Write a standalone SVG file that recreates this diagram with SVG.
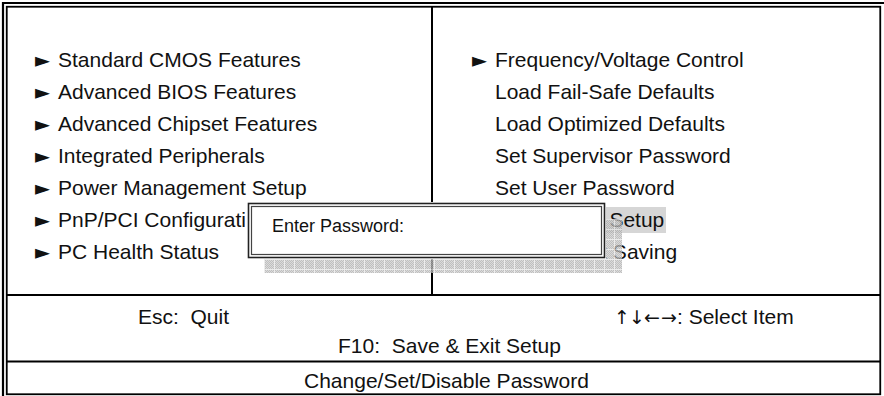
<svg xmlns="http://www.w3.org/2000/svg" width="884" height="396" viewBox="0 0 884 396">
<defs>
<style>
.t{font-family:"Liberation Sans",Arial,sans-serif;font-size:21px;fill:#111}
.d{font-family:"Liberation Sans",Arial,sans-serif;font-size:18px;fill:#111}
.tri{font-family:"DejaVu Sans","Liberation Sans",sans-serif;font-size:20px;fill:#111}
.ar{font-family:"DejaVu Sans","Liberation Sans",sans-serif;font-size:19px;fill:#111}
.ln{stroke:#000;fill:none}
</style>
<pattern id="dith" width="2" height="2" patternUnits="userSpaceOnUse"><rect width="2" height="2" fill="#cfcfcf"/><rect width="1" height="1" fill="#a9a9a9"/><rect x="1" y="1" width="1" height="1" fill="#a9a9a9"/></pattern>
<pattern id="grid" width="10" height="10" patternUnits="userSpaceOnUse" x="264" y="219"><rect width="10" height="10" fill="url(#dith)"/><path d="M0.5,0V10M0,0.5H10" stroke="#e6e6e6" stroke-width="1"/></pattern>
</defs>
<rect width="884" height="396" fill="#fff"/>
<g id="frame" class="ln">
<path d="M3,396V3H884" stroke-width="2.2"/>
<rect x="6.75" y="6.75" width="873.5" height="387.5" stroke-width="1.8"/>
<line x1="432" y1="6" x2="432" y2="295" stroke-width="2"/>
<line x1="6" y1="295" x2="880" y2="295" stroke-width="2"/>
<line x1="6" y1="361.5" x2="880" y2="361.5" stroke-width="2"/>
</g>
<g id="left-menu">
<g id="item-standard-cmos"><text class="tri" x="35" y="67" textLength="15" lengthAdjust="spacingAndGlyphs">►</text><text class="t" x="58" y="67">Standard CMOS Features</text></g>
<g id="item-advanced-bios"><text class="tri" x="35" y="99" textLength="15" lengthAdjust="spacingAndGlyphs">►</text><text class="t" x="58" y="99">Advanced BIOS Features</text></g>
<g id="item-advanced-chipset"><text class="tri" x="35" y="131" textLength="15" lengthAdjust="spacingAndGlyphs">►</text><text class="t" x="58" y="131">Advanced Chipset Features</text></g>
<g id="item-integrated"><text class="tri" x="35" y="163" textLength="15" lengthAdjust="spacingAndGlyphs">►</text><text class="t" x="58" y="163">Integrated Peripherals</text></g>
<g id="item-power"><text class="tri" x="35" y="195" textLength="15" lengthAdjust="spacingAndGlyphs">►</text><text class="t" x="58" y="195">Power Management Setup</text></g>
<g id="item-pnp"><text class="tri" x="35" y="227" textLength="15" lengthAdjust="spacingAndGlyphs">►</text><text class="t" x="58" y="227">PnP/PCI Configurations</text></g>
<g id="item-pc-health"><text class="tri" x="35" y="259" textLength="15" lengthAdjust="spacingAndGlyphs">►</text><text class="t" x="58" y="259">PC Health Status</text></g>
</g>
<g id="right-menu">
<rect id="highlight" x="492" y="207" width="174" height="26" fill="#d6d6d6"/>
<g id="item-freq"><text class="tri" x="472" y="67" textLength="15" lengthAdjust="spacingAndGlyphs">►</text><text class="t" x="495" y="67">Frequency/Voltage Control</text></g>
<g id="item-failsafe"><text class="t" x="495" y="99">Load Fail-Safe Defaults</text></g>
<g id="item-optimized"><text class="t" x="495" y="131">Load Optimized Defaults</text></g>
<g id="item-supervisor"><text class="t" x="495" y="163">Set Supervisor Password</text></g>
<g id="item-user"><text class="t" x="495" y="195">Set User Password</text></g>
<g id="item-save-exit"><text class="t" x="495" y="227">Save &amp; Exit Setup</text></g>
<g id="item-exit-nosave"><text class="t" x="495" y="259">Exit Without Saving</text></g>
</g>
<g id="footer">
<text class="ar" y="324"><tspan x="614">↑</tspan><tspan x="629">↓</tspan><tspan x="644">←</tspan><tspan x="661">→</tspan></text>
<text class="t" x="677" y="324">: Select Item</text>
<text class="t" x="138" y="324">Esc:&#160; Quit</text>
<text class="t" x="338" y="353">F10:&#160; Save &amp; Exit Setup</text>
<text class="t" x="304" y="388">Change/Set/Disable Password</text>
</g>
<g id="dialog">
<rect id="shadow" x="264" y="219" width="358" height="54" fill="url(#grid)" opacity="0.75"/>
<rect x="245" y="202" width="361" height="57" fill="#fff"/>
<rect x="248.5" y="203.5" width="356" height="54" fill="none" stroke="#222" stroke-width="1.6"/>
<rect x="251.5" y="206.5" width="350" height="48" fill="none" stroke="#444" stroke-width="1.2"/>
<text class="d" x="272" y="232">Enter Password:</text>
</g>
</svg>
